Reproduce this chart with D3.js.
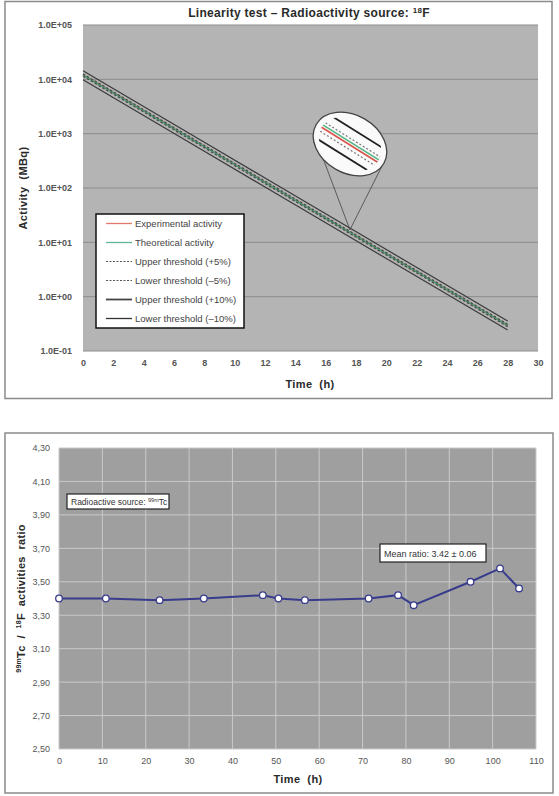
<!DOCTYPE html>
<html><head><meta charset="utf-8">
<script src="https://cdn.jsdelivr.net/npm/d3@7"></script>
<style>
html,body{margin:0;padding:0;background:#fff;}
svg text{font-family:"Liberation Sans",Arial,sans-serif;}
</style></head>
<body>
<svg id="c" width="559" height="796"></svg>
<script>
// ---------- Top chart data (18F linearity test) ----------
const times = [0, 4, 8, 12, 16, 20, 24, 28];
const experimental = [12100, 2650, 581, 127.5, 28.0, 6.15, 1.35, 0.297];
const theoretical  = [12000, 2636, 579, 127.3, 27.96, 6.14, 1.349, 0.296];
const upper5  = [12600, 2768, 608, 133.7, 29.4, 6.45, 1.416, 0.311];
const lower5  = [11400, 2504, 550, 120.9, 26.6, 5.83, 1.282, 0.281];
const upper10 = [14400, 3163, 695, 152.8, 33.6, 7.37, 1.62, 0.356];
const lower10 = [9840, 2162, 475, 104.4, 22.9, 5.03, 1.106, 0.243];
const xTicksTop = [0,2,4,6,8,10,12,14,16,18,20,22,24,26,28,30];
const yTicksTop = [1e-1, 1e0, 1e1, 1e2, 1e3, 1e4, 1e5];
const yTickLabelsTop = ["1.0E-01","1.0E+00","1.0E+01","1.0E+02","1.0E+03","1.0E+04","1.0E+05"];
const legendLabels = ["Experimental activity","Theoretical activity","Upper threshold (+5%)","Lower threshold (\u20135%)","Upper threshold (+10%)","Lower threshold (\u201310%)"];

// ---------- Bottom chart data (99mTc / 18F ratio) ----------
const ratioTimes = [0, 10.8, 23.2, 33.4, 47.0, 50.6, 56.7, 71.4, 78.2, 81.8, 94.9, 101.7, 106.1];
const ratios     = [3.40, 3.40, 3.39, 3.40, 3.42, 3.40, 3.39, 3.40, 3.42, 3.36, 3.50, 3.58, 3.46];
const xTicksBot = [0,10,20,30,40,50,60,70,80,90,100,110];
const yTicksBot = [2.5,2.7,2.9,3.1,3.3,3.5,3.7,3.9,4.1,4.3];

const svg = d3.select("#c");

// ================= TOP CHART =================
svg.append("rect").attr("x",5).attr("y",1.5).attr("width",547).attr("height",397)
  .attr("fill","#fff").attr("stroke","#8a8a8a").attr("stroke-width",1.5);

const T = {l:83, r:538, t:25, b:351};
const x1 = d3.scaleLinear().domain([0,30]).range([T.l,T.r]);
const y1 = d3.scaleLog().domain([0.1,1e5]).range([T.b,T.t]);

const g1 = svg.append("g");
g1.append("rect").attr("x",T.l).attr("y",T.t).attr("width",T.r-T.l).attr("height",T.b-T.t).attr("fill","#b4b4b4");
g1.selectAll("line.hg").data(yTicksTop).join("line")
  .attr("x1",T.l).attr("x2",T.r).attr("y1",d=>y1(d)).attr("y2",d=>y1(d))
  .attr("stroke","#8c8c8c").attr("stroke-width",1);

// axes
const ax1 = d3.axisBottom(x1).tickValues(xTicksTop).tickSize(0).tickPadding(9);
g1.append("g").attr("transform",`translate(0,${T.b})`).call(ax1)
  .call(g=>g.select(".domain").remove())
  .selectAll("text").attr("font-size",9).attr("fill","#555").attr("font-weight","bold").style("font-family","Liberation Sans, Arial");
const ay1 = d3.axisLeft(y1).tickValues(yTicksTop).tickSize(0).tickPadding(11)
  .tickFormat((d,i)=>yTickLabelsTop[i]);
g1.append("g").attr("transform",`translate(${T.l},0)`).call(ay1)
  .call(g=>g.select(".domain").remove())
  .selectAll("text").attr("font-size",9).attr("fill","#555").attr("font-weight","bold").style("font-family","Liberation Sans, Arial");

// series
const line1 = (vals)=> d3.line().x((d,i)=>x1(times[i])).y(d=>y1(d))(vals);
const series = [
  {v:upper10, c:"#3a3a3a", w:1.2, dash:null},
  {v:lower10, c:"#3a3a3a", w:1.2, dash:null},
  {v:experimental, c:"#d9534a", w:1.4, dash:null},
  {v:theoretical, c:"#3f9f74", w:1.4, dash:null},
  {v:upper5, c:"#4a4a4a", w:1.2, dash:"2.5,2"},
  {v:lower5, c:"#4a4a4a", w:1.2, dash:"2.5,2"}
];
series.forEach(s=>{
  g1.append("path").attr("d",line1(s.v)).attr("fill","none").attr("stroke",s.c)
    .attr("stroke-width",s.w).attr("stroke-dasharray",s.dash);
});

// zoom inset (annotation)
const anchorT = 17.6, anchorV = 17;
const ax = x1(anchorT), ay = y1(anchorV);
const ec = {x:350, y:144};
g1.append("line").attr("x1",ax).attr("y1",ay).attr("x2",321).attr("y2",153).attr("stroke","#444").attr("stroke-width",0.8);
g1.append("line").attr("x1",ax).attr("y1",ay).attr("x2",382).attr("y2",166).attr("stroke","#444").attr("stroke-width",0.8);
const defs = svg.append("defs");
defs.append("clipPath").attr("id","ellclip").append("ellipse")
  .attr("cx",0).attr("cy",0).attr("rx",33).attr("ry",25);
const eg = g1.append("g").attr("transform",`translate(${ec.x},${ec.y}) rotate(30)`);
eg.append("ellipse").attr("cx",0).attr("cy",0).attr("rx",39).attr("ry",29)
  .attr("fill","#fafafa").attr("stroke","#444").attr("stroke-width",1.3);
const ig = eg.append("g").attr("clip-path","url(#ellclip)").append("g").attr("transform","rotate(2)");
const inset = [
  {o:-14, c:"#222", w:1.8, dash:null},
  {o:13, c:"#222", w:1.8, dash:null},
  {o:-5, c:"#777", w:1.2, dash:"2,2"},
  {o:5, c:"#777", w:1.2, dash:"2,2"},
  {o:-1.8, c:"#4fb582", w:1.4, dash:null},
  {o:0.8, c:"#d9534a", w:1.6, dash:null}
];
inset.forEach(s=>{
  ig.append("line").attr("x1",-40).attr("x2",40).attr("y1",s.o).attr("y2",s.o)
    .attr("stroke",s.c).attr("stroke-width",s.w).attr("stroke-dasharray",s.dash);
});

// legend
const L = {x:96, y:214, w:148, h:114};
const lg = g1.append("g");
lg.append("rect").attr("x",L.x).attr("y",L.y).attr("width",L.w).attr("height",L.h)
  .attr("fill","#fff").attr("stroke","#111").attr("stroke-width",1.5);
const legStyles = [
  {c:"#e07a6a", w:1.3, dash:null},
  {c:"#5fb596", w:1.3, dash:null},
  {c:"#555", w:1.1, dash:"2,1.5"},
  {c:"#555", w:1.1, dash:"2,1.5"},
  {c:"#444", w:1.8, dash:null},
  {c:"#333", w:1.3, dash:null}
];
legendLabels.forEach((lab,i)=>{
  const yy = L.y + 9.5 + i*19;
  lg.append("line").attr("x1",106).attr("x2",132).attr("y1",yy).attr("y2",yy)
    .attr("stroke",legStyles[i].c).attr("stroke-width",legStyles[i].w).attr("stroke-dasharray",legStyles[i].dash);
  lg.append("text").attr("x",135).attr("y",yy+3.5).attr("font-size",9.5).attr("fill","#444").text(lab);
});

// titles
const tt = svg.append("text").attr("x",309).attr("y",17).attr("text-anchor","middle")
  .attr("font-size",12).attr("font-weight","bold").attr("fill","#2a2a2a").attr("letter-spacing",0.3);
tt.append("tspan").text("Linearity test \u2013 Radioactivity source: ");
tt.append("tspan").attr("font-size",8).attr("dy",-4).text("18");
tt.append("tspan").attr("dy",4).text("F");
svg.append("text").attr("x",310).attr("y",388).attr("text-anchor","middle")
  .attr("font-size",11).attr("font-weight","bold").attr("fill","#2a2a2a").attr("letter-spacing",0.4).attr("xml:space","preserve").text("Time  (h)");
svg.append("text").attr("transform",`translate(27,${(T.t+T.b)/2}) rotate(-90)`).attr("text-anchor","middle")
  .attr("font-size",11).attr("font-weight","bold").attr("fill","#2a2a2a").attr("letter-spacing",0.4).attr("xml:space","preserve").text("Activity  (MBq)");

// ================= BOTTOM CHART =================
svg.append("rect").attr("x",5).attr("y",433).attr("width",548).attr("height",360)
  .attr("fill","#fff").attr("stroke","#8a8a8a").attr("stroke-width",1.5);

const B = {l:59, r:536, t:448, b:749};
const x2 = d3.scaleLinear().domain([0,110]).range([B.l,B.r]);
const y2 = d3.scaleLinear().domain([2.5,4.3]).range([B.b,B.t]);
const g2 = svg.append("g");
g2.append("rect").attr("x",B.l).attr("y",B.t).attr("width",B.r-B.l).attr("height",B.b-B.t).attr("fill","#9f9f9f");
g2.selectAll("line.vg").data(xTicksBot).join("line")
  .attr("x1",d=>x2(d)).attr("x2",d=>x2(d)).attr("y1",B.t).attr("y2",B.b)
  .attr("stroke","#c9c9c9").attr("stroke-width",1);
g2.selectAll("line.hg").data(yTicksBot).join("line")
  .attr("x1",B.l).attr("x2",B.r).attr("y1",d=>y2(d)).attr("y2",d=>y2(d))
  .attr("stroke","#c9c9c9").attr("stroke-width",1);

const ax2 = d3.axisBottom(x2).tickValues(xTicksBot).tickSize(0).tickPadding(9);
g2.append("g").attr("transform",`translate(0,${B.b})`).call(ax2)
  .call(g=>g.select(".domain").remove())
  .selectAll("text").attr("font-size",9).attr("fill","#555").style("font-family","Liberation Sans, Arial");
const ay2 = d3.axisLeft(y2).tickValues(yTicksBot).tickSize(0).tickPadding(9)
  .tickFormat(d=>d3.format(".2f")(d).replace(".",","));
g2.append("g").attr("transform",`translate(${B.l},0)`).call(ay2)
  .call(g=>g.select(".domain").remove())
  .selectAll("text").attr("font-size",9).attr("fill","#555").style("font-family","Liberation Sans, Arial");

const line2 = d3.line().x((d,i)=>x2(ratioTimes[i])).y(d=>y2(d));
g2.append("path").attr("d",line2(ratios)).attr("fill","none").attr("stroke","#383c8c").attr("stroke-width",2);
g2.selectAll("circle").data(ratios).join("circle")
  .attr("cx",(d,i)=>x2(ratioTimes[i])).attr("cy",d=>y2(d)).attr("r",3.3)
  .attr("fill","#fff").attr("stroke","#383c8c").attr("stroke-width",1.3);

// annotation boxes
g2.append("rect").attr("x",67).attr("y",494).attr("width",102).attr("height",15)
  .attr("fill","#fff").attr("stroke","#222").attr("stroke-width",1.2);
const at1 = g2.append("text").attr("x",71).attr("y",505).attr("font-size",8.5).attr("fill","#333");
at1.append("tspan").text("Radioactive source: ");
at1.append("tspan").attr("font-size",5.5).attr("dy",-3).text("99m");
at1.append("tspan").attr("dy",3).text("Tc");
g2.append("rect").attr("x",380).attr("y",544).attr("width",106).attr("height",18)
  .attr("fill","#fff").attr("stroke","#222").attr("stroke-width",1.2);
g2.append("text").attr("x",384).attr("y",556.5).attr("font-size",9).attr("fill","#333").text("Mean ratio: 3.42 \u00b1 0.06");

svg.append("text").attr("x",298).attr("y",783).attr("text-anchor","middle")
  .attr("font-size",11).attr("font-weight","bold").attr("fill","#2a2a2a").attr("letter-spacing",0.4).attr("xml:space","preserve").text("Time  (h)");
const yl = svg.append("text").attr("transform",`translate(25,${(B.t+B.b)/2}) rotate(-90)`).attr("text-anchor","middle")
  .attr("font-size",11).attr("font-weight","bold").attr("fill","#2a2a2a").attr("letter-spacing",0.3).attr("xml:space","preserve");
yl.append("tspan").attr("font-size",7).attr("dy",-4).text("99m");
yl.append("tspan").attr("dy",4).text("Tc  /  ");
yl.append("tspan").attr("font-size",7).attr("dy",-4).text("18");
yl.append("tspan").attr("dy",4).text("F  activities  ratio");
</script>
</body></html>
